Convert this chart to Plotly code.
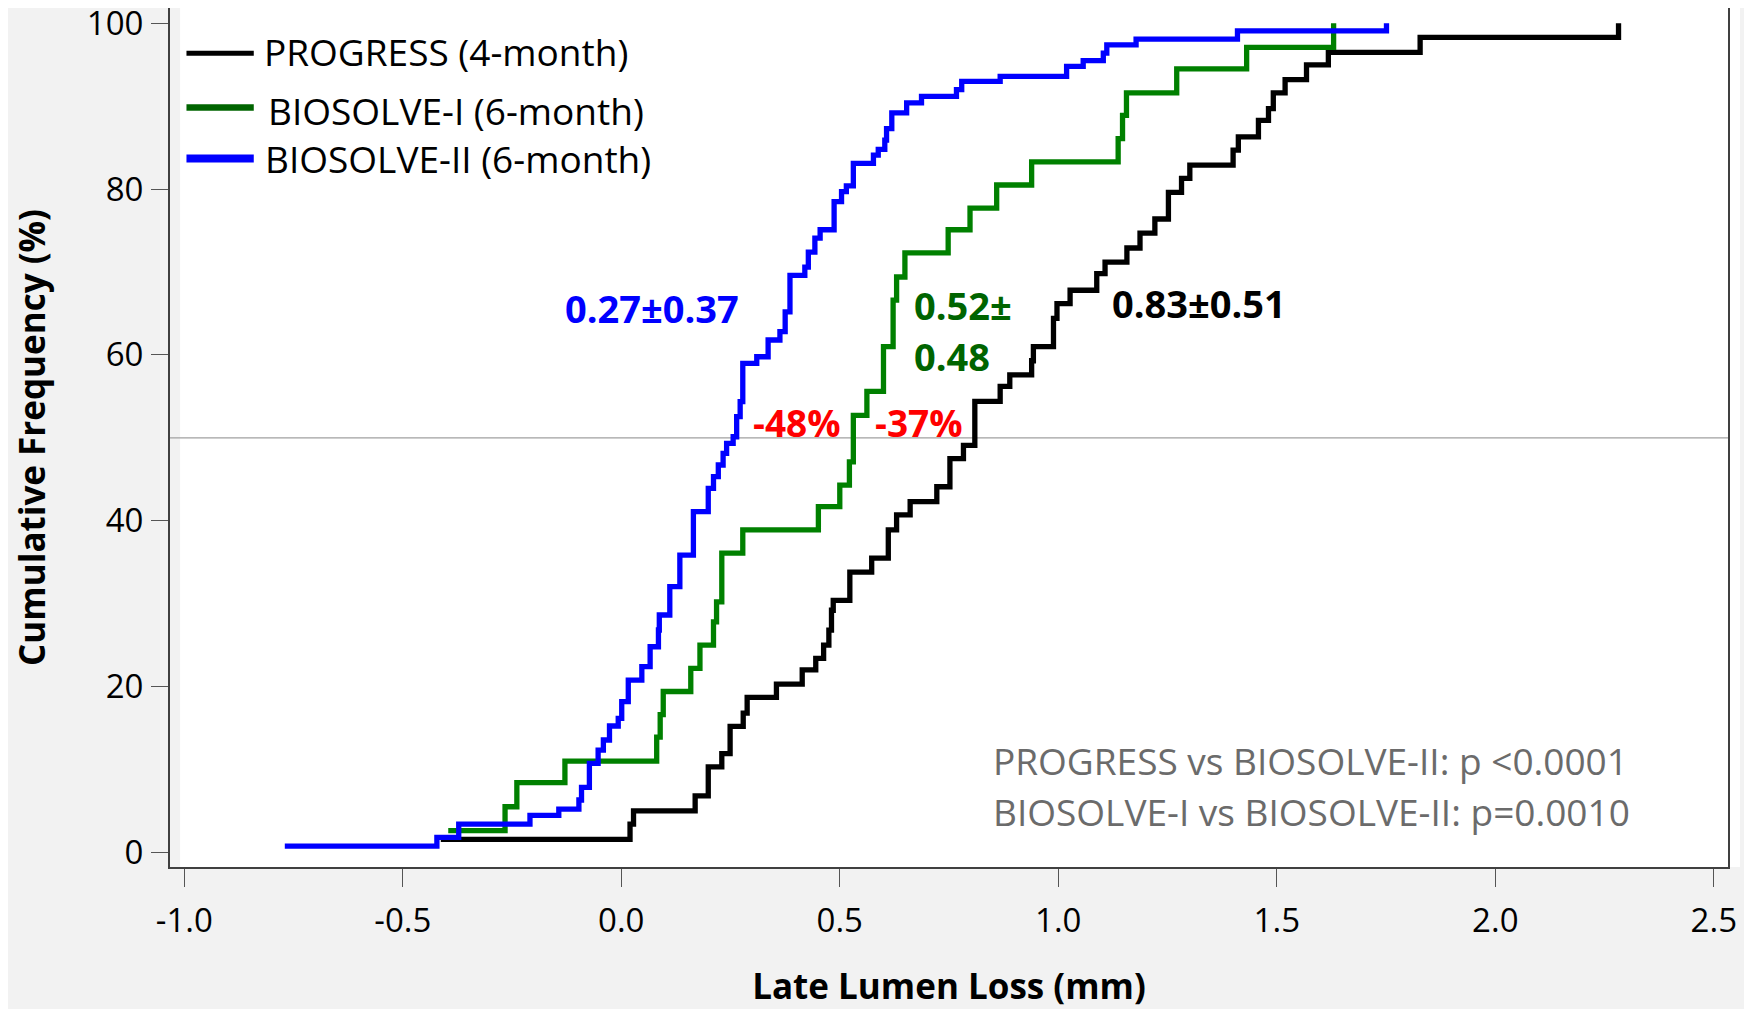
import plotly.graph_objects as go

# ---------------- data ----------------
progress_x = [-0.413, 0.020, 0.028, 0.169, 0.199, 0.230, 0.249, 0.279, 0.288, 0.355,
              0.414, 0.445, 0.463, 0.475, 0.481, 0.485, 0.523, 0.573, 0.611, 0.630,
              0.661, 0.722, 0.752, 0.783, 0.809, 0.867, 0.889, 0.939, 0.943, 0.989,
              0.997, 1.027, 1.088, 1.107, 1.157, 1.187, 1.221, 1.252, 1.282, 1.301,
              1.400, 1.412, 1.458, 1.481, 1.492, 1.519, 1.568, 1.618, 1.828, 2.282]
progress_y = [1.57, 3.41, 5.0, 6.8, 10.3, 11.9, 15.2, 16.8, 18.7, 20.3,
              22.0, 23.4, 25.0, 26.8, 29.2, 30.4, 33.8, 35.5, 38.9, 40.7,
              42.3, 44.1, 47.5, 49.1, 54.4, 56.2, 57.6, 59.3, 61.0, 64.4,
              66.2, 67.8, 69.8, 71.2, 72.9, 74.7, 76.4, 79.6, 81.3, 82.9,
              84.7, 86.3, 88.3, 89.7, 91.6, 93.2, 95.0, 96.5, 98.3, 100.0]

biosolve1_x = [-0.396, -0.266, -0.239, -0.129, 0.081, 0.089, 0.096, 0.159, 0.180, 0.211,
               0.218, 0.230, 0.278, 0.451, 0.500, 0.522, 0.531, 0.562, 0.600, 0.622,
               0.630, 0.649, 0.748, 0.798, 0.859, 0.939, 1.137, 1.147, 1.156, 1.271,
               1.431, 1.630]
biosolve1_y = [2.61, 5.5, 8.4, 11.0, 13.9, 16.6, 19.4, 22.2, 25.0, 27.8,
               30.2, 36.1, 38.9, 41.7, 44.3, 47.1, 52.7, 55.6, 61.0, 66.6,
               69.4, 72.3, 75.1, 77.7, 80.5, 83.3, 86.1, 88.9, 91.6, 94.5,
               97.1, 100.0]

biosolve2_x = [-0.770, -0.422, -0.372, -0.209, -0.143, -0.097, -0.091, -0.073, -0.053, -0.041,
               -0.027, -0.007, 0.001, 0.016, 0.047, 0.066, 0.085, 0.087, 0.111, 0.134,
               0.165, 0.199, 0.211, 0.222, 0.233, 0.241, 0.256, 0.264, 0.272, 0.278,
               0.310, 0.336, 0.363, 0.375, 0.386, 0.420, 0.428, 0.443, 0.455, 0.487,
               0.504, 0.515, 0.531, 0.577, 0.588, 0.603, 0.607, 0.619, 0.653, 0.687,
               0.767, 0.779, 0.867, 1.019, 1.057, 1.103, 1.111, 1.178, 1.410, 1.751]
biosolve2_y = [0.76, 1.81, 3.41, 4.46, 5.22, 6.31, 7.84, 10.74, 12.34, 13.55,
               15.24, 16.16, 18.17, 20.78, 22.39, 24.80, 26.82, 28.63, 32.04, 35.86,
               41.09, 43.91, 45.31, 46.72, 48.13, 49.34, 50.13, 52.55, 54.36, 58.99,
               59.78, 61.80, 62.80, 65.20, 69.60, 70.60, 72.40, 74.10, 75.10, 78.50,
               79.70, 80.40, 83.10, 84.10, 84.80, 85.90, 87.30, 89.20, 90.40, 91.20,
               92.00, 93.00, 93.60, 94.80, 95.50, 96.40, 97.40, 98.10, 99.10, 100.0]

series_names = ["PROGRESS (4-month)", "BIOSOLVE-I (6-month)", "BIOSOLVE-II (6-month)"]
series_colors = ["#000000", "#008000", "#0000ff"]

x_ticks = [-1.0, -0.5, 0.0, 0.5, 1.0, 1.5, 2.0, 2.5]
y_ticks = [0, 20, 40, 60, 80, 100]

FONT = "Open Sans, Lato, sans-serif"

fig = go.Figure()
for xs, ys, name, col in zip([progress_x, biosolve1_x, biosolve2_x],
                             [progress_y, biosolve1_y, biosolve2_y],
                             series_names, series_colors):
    fig.add_trace(go.Scatter(x=xs, y=ys, mode="lines", name=name,
                             line=dict(color=col, width=5.3, shape="hv"),
                             showlegend=False))

# narrow grey strip inside the left frame, white strip outside the right frame
fig.add_shape(type="rect", xref="paper", yref="paper", x0=0, x1=0.0065, y0=0, y1=1,
              fillcolor="#f2f2f2", line=dict(width=0), layer="below")
fig.add_shape(type="rect", xref="paper", yref="paper", x0=1.0008, x1=1.0077, y0=0, y1=1,
              fillcolor="#ffffff", line=dict(width=0), layer="below")

# 50 % reference line
fig.add_shape(type="line", xref="paper", x0=0, x1=1, yref="y", y0=50, y1=50,
              line=dict(color="#a0a0a0", width=1.2), layer="below")

# manual legend
leg_y_line = [96.4, 89.85, 83.7]
leg_y_text = [96.6, 89.5, 83.7]
leg_x_text = [-0.822, -0.812, -0.820]
leg_widths = [5, 6.5, 8]
leg_cols = ["#000000", "#006400", "#0000ff"]
for i in range(3):
    fig.add_shape(type="line", x0=-0.995, x1=-0.841, y0=leg_y_line[i], y1=leg_y_line[i],
                  line=dict(color=leg_cols[i], width=leg_widths[i]))
    fig.add_annotation(x=leg_x_text[i], y=leg_y_text[i], text=series_names[i],
                       showarrow=False, xanchor="left", yanchor="middle",
                       font=dict(family=FONT, size=37, color="#000000"))

bold = dict(family=FONT, size=38)
fig.add_annotation(x=0.071, y=65.7, text="<b>0.27±0.37</b>", showarrow=False,
                   xanchor="center", yanchor="middle", font=dict(**bold, color="#0000ff"))
fig.add_annotation(x=0.665, y=66.0, text="<b>0.52±</b>", showarrow=False,
                   xanchor="left", yanchor="middle", font=dict(**bold, color="#006400"))
fig.add_annotation(x=0.665, y=59.9, text="<b>0.48</b>", showarrow=False,
                   xanchor="left", yanchor="middle", font=dict(**bold, color="#006400"))
fig.add_annotation(x=1.321, y=66.3, text="<b>0.83±0.51</b>", showarrow=False,
                   xanchor="center", yanchor="middle", font=dict(**bold, color="#000000"))
fig.add_annotation(x=0.401, y=51.9, text="<b>-48%</b>", showarrow=False,
                   xanchor="center", yanchor="middle", font=dict(family=FONT, size=37, color="#ff0000"))
fig.add_annotation(x=0.681, y=51.9, text="<b>-37%</b>", showarrow=False,
                   xanchor="center", yanchor="middle", font=dict(family=FONT, size=37, color="#ff0000"))

fig.add_annotation(x=0.845, y=11.1, text="PROGRESS vs BIOSOLVE-II: p <0.0001", showarrow=False,
                   xanchor="left", yanchor="middle", font=dict(family=FONT, size=37, color="#6b6b6b"))
fig.add_annotation(x=0.845, y=4.9, text="BIOSOLVE-I vs BIOSOLVE-II: p=0.0010", showarrow=False,
                   xanchor="left", yanchor="middle", font=dict(family=FONT, size=37, color="#6b6b6b"))

# the page body adds an 8 px offset, so the figure is 8 px smaller and margins shifted
fig.update_layout(
    width=1744, height=1001,
    margin=dict(l=162, r=24, t=0, b=142),
    paper_bgcolor="#f2f2f2", plot_bgcolor="#ffffff",
    font=dict(family=FONT, size=33, color="#000000"),
    xaxis=dict(range=[-1.0327, 2.5325], tickvals=x_ticks,
               ticktext=[f"{v:.1f}" for v in x_ticks],
               showgrid=False, zeroline=False, ticks="outside", ticklen=18,
               tickcolor="#555555", tickwidth=1, showline=True, linecolor="#404040",
               linewidth=2, mirror=True, ticklabelstandoff=5,
               ticklabeloverflow="allow", automargin=False,
               tickfont=dict(family=FONT, size=33, color="#000000"),
               title=dict(text="<b>Late Lumen Loss (mm)</b>", standoff=36,
                          font=dict(family=FONT, size=35, color="#000000"))),
    yaxis=dict(range=[-1.77, 101.85], tickvals=y_ticks,
               showgrid=False, zeroline=False, ticks="outside", ticklen=17,
               tickcolor="#555555", tickwidth=1, showline=True, linecolor="#404040",
               linewidth=2, mirror=True, ticklabelstandoff=1,
               ticklabeloverflow="allow", automargin=False,
               tickfont=dict(family=FONT, size=33, color="#000000"),
               title=dict(text="<b>Cumulative Frequency (%)</b>", standoff=50,
                          font=dict(family=FONT, size=35, color="#000000"))),
)

fig.write_html("out.html")
